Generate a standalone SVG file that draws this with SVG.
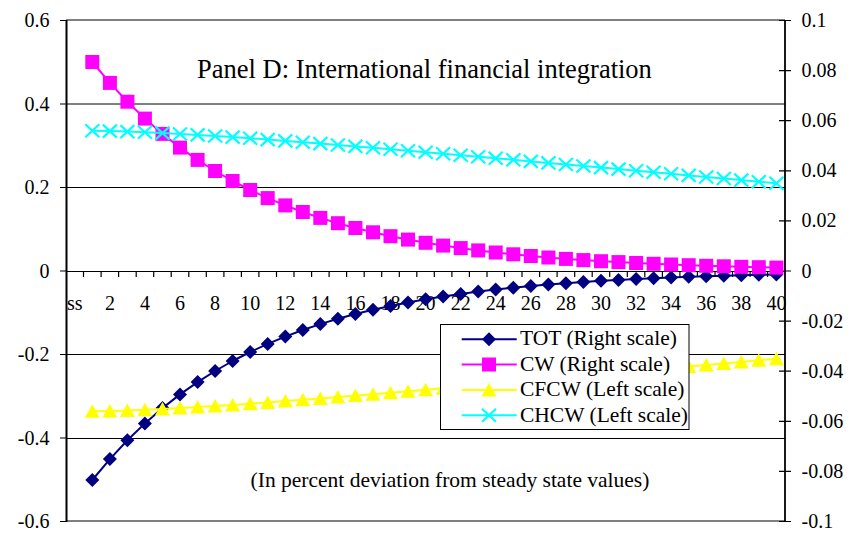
<svg xmlns="http://www.w3.org/2000/svg" width="857" height="540" viewBox="0 0 857 540">
<style>
text{font-family:"Liberation Serif","Times New Roman",serif;fill:#000}
.ax{font-size:20px}
.lg{font-size:21.5px}
.grid{stroke:#000;stroke-width:1;fill:none}
.tick{stroke:#000;stroke-width:1.2;fill:none}
.s{fill:none;stroke-width:2;stroke-linejoin:round}
</style>
<defs>
<marker id="mDia" viewBox="-8 -8 16 16" refX="0" refY="0" markerWidth="16" markerHeight="16" markerUnits="userSpaceOnUse" orient="0"><polygon points="0,-7 7,0 0,7 -7,0" fill="#000080"/></marker>
<marker id="mSq" viewBox="-8 -8 16 16" refX="0" refY="0" markerWidth="16" markerHeight="16" markerUnits="userSpaceOnUse" orient="0"><rect x="-7" y="-7" width="14" height="14" fill="#FF00FF"/></marker>
<marker id="mTri" viewBox="-8 -8 16 16" refX="0" refY="0" markerWidth="16" markerHeight="16" markerUnits="userSpaceOnUse" orient="0"><polygon points="0,-7 7.5,6.5 -7.5,6.5" fill="#FFFF00"/></marker>
<marker id="mX" viewBox="-8 -8 16 16" refX="0" refY="0" markerWidth="16" markerHeight="16" markerUnits="userSpaceOnUse" orient="0"><path d="M-7,-6.5 L7,6.5 M-7,6.5 L7,-6.5" stroke="#00FFFF" stroke-width="2.2" fill="none"/></marker>
</defs>
<rect x="0" y="0" width="857" height="540" fill="#fff"/>

<g id="gridlines">
<line class="grid" x1="66" y1="20" x2="785" y2="20" stroke-width="1.3"/>
<line class="grid" x1="66" y1="104" x2="785" y2="104"/>
<line class="grid" x1="66" y1="187.5" x2="785" y2="187.5"/>
<line class="grid" x1="66" y1="354.5" x2="785" y2="354.5"/>
<line class="grid" x1="66" y1="438.5" x2="785" y2="438.5"/>
<line class="grid" x1="66" y1="521" x2="785" y2="521" stroke-width="1.3"/>
</g>

<g id="axes">
<line x1="66.5" y1="20" x2="66.5" y2="522" stroke="#000" stroke-width="2"/>
<line x1="785" y1="20" x2="785" y2="522" stroke="#000" stroke-width="1.8"/>
<line x1="66" y1="271.5" x2="785" y2="271.5" stroke="#000" stroke-width="1"/>
<path class="tick" d="M60,20.5H66 M60,104H66 M60,187.5H66 M60,271H66 M60,354.5H66 M60,438H66 M60,521.5H66"/>
<path class="tick" d="M779,20.5H791 M779,70.6H791 M779,120.7H791 M779,170.8H791 M779,220.9H791 M779,271H791 M779,321.1H791 M779,371.2H791 M779,421.3H791 M779,471.4H791 M779,521.5H791"/>
<path class="tick" d="M83.5,271V277 M101.1,271V277 M118.6,271V277 M136.2,271V277 M153.7,271V277 M171.2,271V277 M188.8,271V277 M206.3,271V277 M223.9,271V277 M241.4,271V277 M258.9,271V277 M276.5,271V277 M294,271V277 M311.6,271V277 M329.1,271V277 M346.6,271V277 M364.2,271V277 M381.7,271V277 M399.3,271V277 M416.8,271V277 M434.3,271V277 M451.9,271V277 M469.4,271V277 M487,271V277 M504.5,271V277 M522,271V277 M539.6,271V277 M557.1,271V277 M574.7,271V277 M592.2,271V277 M609.7,271V277 M627.3,271V277 M644.8,271V277 M662.4,271V277 M679.9,271V277 M697.4,271V277 M715,271V277 M732.5,271V277 M750.1,271V277 M767.6,271V277"/>
</g>

<g id="left-labels" class="ax" text-anchor="end">
<text x="49.5" y="27">0.6</text>
<text x="49.5" y="110.5">0.4</text>
<text x="49.5" y="194">0.2</text>
<text x="49.5" y="277.5">0</text>
<text x="49.5" y="361">-0.2</text>
<text x="49.5" y="444.5">-0.4</text>
<text x="49.5" y="528">-0.6</text>
</g>

<g id="right-labels" class="ax">
<text x="801.5" y="27">0.1</text>
<text x="801.5" y="77.1">0.08</text>
<text x="801.5" y="127.2">0.06</text>
<text x="801.5" y="177.3">0.04</text>
<text x="801.5" y="227.4">0.02</text>
<text x="801.5" y="277.5">0</text>
<text x="801.5" y="327.6">-0.02</text>
<text x="801.5" y="377.7">-0.04</text>
<text x="801.5" y="427.8">-0.06</text>
<text x="801.5" y="477.9">-0.08</text>
<text x="801.5" y="528">-0.1</text>
</g>

<g id="x-labels" class="ax" text-anchor="middle">
<text x="74.8" y="310">ss</text>
<text x="109.9" y="310">2</text>
<text x="144.9" y="310">4</text>
<text x="180" y="310">6</text>
<text x="215.1" y="310">8</text>
<text x="250.2" y="310">10</text>
<text x="285.3" y="310">12</text>
<text x="320.3" y="310">14</text>
<text x="355.4" y="310">16</text>
<text x="390.5" y="310">18</text>
<text x="425.6" y="310">20</text>
<text x="460.7" y="310">22</text>
<text x="495.7" y="310">24</text>
<text x="530.8" y="310">26</text>
<text x="565.9" y="310">28</text>
<text x="601" y="310">30</text>
<text x="636.1" y="310">32</text>
<text x="671.1" y="310">34</text>
<text x="706.2" y="310">36</text>
<text x="741.3" y="310">38</text>
<text x="776.4" y="310">40</text>
</g>

<g id="series">
<polyline id="TOT" class="s" stroke="#000080" marker-start="url(#mDia)" marker-mid="url(#mDia)" marker-end="url(#mDia)" points="92.3,480 109.9,459.1 127.4,440.3 144.9,423.4 162.5,408.1 180,394.4 197.6,382.1 215.1,371 232.6,361 250.2,352 267.7,343.9 285.3,336.6 302.8,330 320.3,324.1 337.9,318.8 355.4,314 373,309.7 390.5,305.9 408,302.4 425.6,299.2 443.1,296.4 460.7,293.9 478.2,291.6 495.7,289.5 513.3,287.7 530.8,286 548.4,284.5 565.9,283.2 583.4,281.9 601,280.8 618.5,279.9 636.1,279 653.6,278.2 671.1,277.5 688.7,276.8 706.2,276.2 723.8,275.7 741.3,275.2 758.8,274.8 776.4,274.4"/>
<polyline id="CW" class="s" stroke="#FF00FF" marker-start="url(#mSq)" marker-mid="url(#mSq)" marker-end="url(#mSq)" points="92.3,62 109.9,82.9 127.4,101.7 144.9,118.6 162.5,133.9 180,147.6 197.6,159.9 215.1,171 232.6,181 250.2,190 267.7,198.1 285.3,205.4 302.8,212 320.3,217.9 337.9,223.2 355.4,228 373,232.3 390.5,236.2 408,239.6 425.6,242.8 443.1,245.6 460.7,248.1 478.2,250.4 495.7,252.5 513.3,254.3 530.8,256 548.4,257.5 565.9,258.9 583.4,260.1 601,261.2 618.5,262.1 636.1,263 653.6,263.8 671.1,264.5 688.7,265.2 706.2,265.8 723.8,266.3 741.3,266.8 758.8,267.2 776.4,267.6"/>
<polyline id="CFCW" class="s" stroke="#FFFF00" marker-start="url(#mTri)" marker-mid="url(#mTri)" marker-end="url(#mTri)" points="92.3,411.3 109.9,410.9 127.4,410.4 144.9,409.7 162.5,408.9 180,408 197.6,407.1 215.1,406 232.6,404.9 250.2,403.7 267.7,402.4 285.3,401.1 302.8,399.8 320.3,398.4 337.9,397 355.4,395.6 373,394.2 390.5,392.7 408,391.3 425.6,389.8 443.1,388.3 460.7,386.8 478.2,385.2 495.7,383.7 513.3,382.2 530.8,380.6 548.4,379.1 565.9,377.5 583.4,376 601,374.4 618.5,372.9 636.1,371.3 653.6,369.7 671.1,368.2 688.7,366.6 706.2,365 723.8,363.5 741.3,361.9 758.8,360.3 776.4,358.7"/>
<polyline id="CHCW" class="s" stroke="#00FFFF" marker-start="url(#mX)" marker-mid="url(#mX)" marker-end="url(#mX)" points="92.3,130.7 109.9,131.1 127.4,131.6 144.9,132.3 162.5,133.1 180,134 197.6,134.9 215.1,136 232.6,137.1 250.2,138.3 267.7,139.6 285.3,140.9 302.8,142.2 320.3,143.6 337.9,145 355.4,146.4 373,147.8 390.5,149.3 408,150.7 425.6,152.2 443.1,153.7 460.7,155.2 478.2,156.8 495.7,158.3 513.3,159.8 530.8,161.4 548.4,162.9 565.9,164.5 583.4,166 601,167.6 618.5,169.1 636.1,170.7 653.6,172.3 671.1,173.8 688.7,175.4 706.2,177 723.8,178.5 741.3,180.1 758.8,181.7 776.4,183.3"/>
</g>

<g id="title">
<text x="424.5" y="77.5" text-anchor="middle" font-size="26.5">Panel D: International financial integration</text>
</g>

<g id="legend">
<rect x="440.5" y="324.5" width="248.5" height="105" fill="#fff" stroke="#000" stroke-width="1"/>
<polyline class="s" stroke="#000080" marker-mid="url(#mDia)" points="461.7,339.3 489,339.3 516.7,339.3"/>
<polyline class="s" stroke="#FF00FF" marker-mid="url(#mSq)" points="461.7,364.5 489,364.5 516.7,364.5"/>
<polyline class="s" stroke="#FFFF00" marker-mid="url(#mTri)" points="461.7,390 489,390 516.7,390"/>
<polyline class="s" stroke="#00FFFF" marker-mid="url(#mX)" points="461.7,415.3 489,415.3 516.7,415.3"/>
<text class="lg" x="520" y="345.3">TOT (Right scale)</text>
<text class="lg" x="520" y="370.8">CW (Right scale)</text>
<text class="lg" x="520" y="396.3">CFCW (Left scale)</text>
<text class="lg" x="520" y="421.8">CHCW (Left scale)</text>
</g>

<g id="note">
<text class="lg" x="450" y="486.5" text-anchor="middle">(In percent deviation from steady state values)</text>
</g>
</svg>
